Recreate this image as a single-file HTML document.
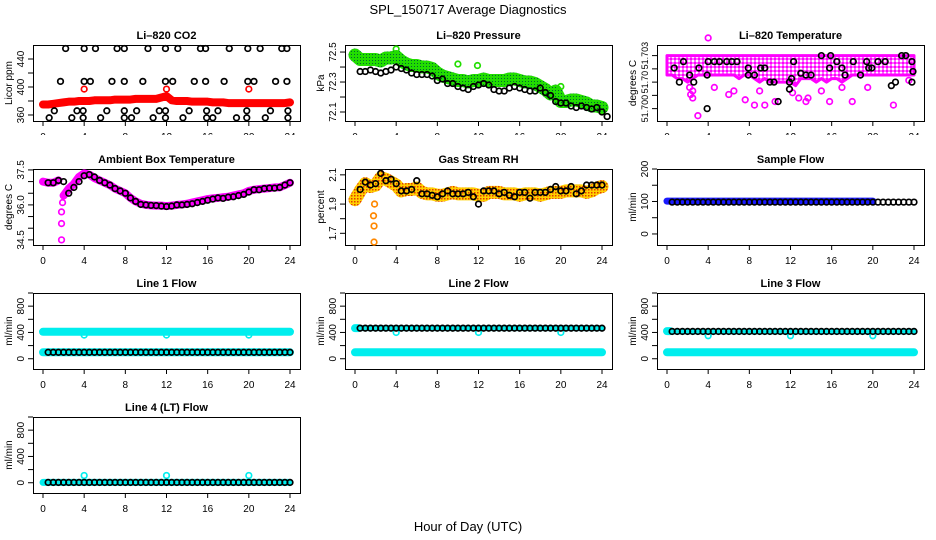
<!DOCTYPE html>
<html><head><meta charset="utf-8"><style>
html,body{margin:0;padding:0;background:#fff}
svg{display:block;font-family:"Liberation Sans",Arial,sans-serif}
</style></head><body>
<svg id="fig" width="936" height="540" viewBox="0 0 936 540">
<defs>
<pattern id="patGreen" width="3" height="3" patternUnits="userSpaceOnUse"><rect width="3" height="3" fill="#22dd00"/><rect width="1" height="1" fill="#063"/></pattern>
<pattern id="patOrange" width="3" height="3" patternUnits="userSpaceOnUse"><rect width="3" height="3" fill="#ffd000"/><rect width="1.5" height="1.5" fill="#e23b00"/></pattern>
<pattern id="patMag" width="4" height="4" patternUnits="userSpaceOnUse"><rect width="4" height="4" fill="#ff66ff"/><rect width="2" height="2" fill="#fff"/><rect x="2" y="2" width="2" height="2" fill="#ff00ff"/></pattern>
<clipPath id="clipRow1"><rect x="0" y="0" width="936" height="135"/></clipPath>
</defs>
<text x="468" y="14" text-anchor="middle" font-size="13">SPL_150717  Average Diagnostics</text>
<text x="468" y="531" text-anchor="middle" font-size="13">Hour of Day (UTC)</text>
</svg>
<script>
// ---------- data (hour-of-day series) ----------
const hourTicks=[0,4,8,12,16,20,24];
// CO2 (ppm)
const co2Red=[375,375,376,377,378,379,379,380,380,380,381,381,381,381,382,382,382,382,383,383,383,383,383,385,387,381,380,380,380,379,379,379,379,378,378,378,377,377,377,377,377,377,377,377,377,377,377,377,378];
const co2RedOutT=[4,12,20];
const co2RedOutV=[397,397,397];
const co2BlackT=[2.2,4.0,5.1,7.2,7.9,10.2,11.9,13.1,15.3,15.8,18.1,19.9,21.1,23.2,23.7, 1.7,4.0,4.6,6.7,7.9,9.7,11.9,12.6,14.7,15.8,17.6,19.9,20.5,22.6,23.7, 1.1,3.3,3.9,6.2,7.9,9.1,11.3,11.9,14.2,15.9,17.0,19.8,22.1,23.8, 0.6,2.8,3.9,5.6,7.9,8.6,10.7,11.9,13.6,15.9,16.5,18.8,19.8,21.6,23.8];
const co2BlackV=[455,455,455,455,455,455,455,455,455,455,455,455,455,455,455, 408,408,408,408,408,408,408,408,408,408,408,408,408,408,408, 366,366,366,366,366,366,366,366,366,366,366,366,366,366, 356,356,356,356,356,356,356,356,356,356,356,356,356,356,356];
// Pressure (kPa)
const presGreen=[72.48,72.45,72.45,72.45,72.45,72.44,72.46,72.46,72.47,72.44,72.42,72.41,72.41,72.40,72.40,72.39,72.36,72.34,72.33,72.32,72.31,72.31,72.30,72.31,72.31,72.32,72.31,72.31,72.31,72.31,72.32,72.32,72.31,72.30,72.30,72.29,72.27,72.25,72.22,72.24,72.17,72.17,72.18,72.18,72.17,72.16,72.14,72.14,72.13];
const presGreenOutT=[4.0,10.0,11.9,20.0];
const presGreenOutV=[72.52,72.42,72.41,72.27];
const presBlack=[72.37,72.37,72.38,72.37,72.36,72.37,72.38,72.40,72.39,72.38,72.36,72.35,72.35,72.35,72.34,72.31,72.32,72.29,72.29,72.27,72.26,72.25,72.27,72.28,72.29,72.28,72.25,72.24,72.24,72.26,72.27,72.26,72.25,72.24,72.24,72.26,72.23,72.21,72.17,72.16,72.16,72.14,72.13,72.14,72.13,72.12,72.13,72.10,72.07];
// Li-820 temperature (deg C)
const tempHi=[51.7030,51.7030,51.7030,51.7030,51.7030,51.7030,51.7030,51.7030,51.7030,51.7030,51.7030,51.7030,51.7030,51.7030,51.7030,51.7030,51.7030,51.7030,51.7030,51.7030,51.7030,51.7030,51.7030,51.7030,51.7030,51.7030,51.7030,51.7030,51.7030,51.7030,51.7030,51.7030,51.7030,51.7030,51.7030,51.7030,51.7030,51.7030,51.7030,51.7030,51.7030,51.7030,51.7030,51.7030,51.7030,51.7030,51.7030,51.7030,51.7030];
const tempLo=[51.7019,51.7019,51.7017,51.7017,51.7015,51.7017,51.7019,51.7019,51.7019,51.7019,51.7019,51.7019,51.7019,51.7019,51.7017,51.7019,51.7019,51.7017,51.7015,51.7017,51.7015,51.7015,51.7015,51.7015,51.7015,51.7013,51.7017,51.7017,51.7017,51.7015,51.7017,51.7015,51.7017,51.7017,51.7015,51.7017,51.7019,51.7019,51.7019,51.7019,51.7019,51.7019,51.7019,51.7019,51.7019,51.7019,51.7019,51.7019,51.7019];
const tempMagOutT=[2.2,2.5,2.3,2.5,3.0,4.0,4.6,6.0,6.5,7.6,8.5,9.0,9.5,10.5,12.2,12.8,13.5,13.7,15.0,15.8,17.0,18.0,19.5,22.0,23.5];
const tempMagOutV=[51.7012,51.7010,51.7008,51.7006,51.6996,51.7040,51.7012,51.7008,51.7010,51.7005,51.7002,51.7010,51.7002,51.7004,51.7009,51.7006,51.7004,51.7006,51.7010,51.7004,51.7012,51.7004,51.7012,51.7002,51.7016];
const tempBlackT=[0.7,1.2,1.6,2.2,2.6,3.1,3.9,3.9,4.0,4.6,5.1,5.8,6.3,6.8,7.9,7.9,8.5,9.1,9.5,10.0,10.4,10.8,11.9,11.9,12.1,12.3,13.0,13.5,14.0,15.0,15.9,15.8,16.5,17.0,17.3,18.1,18.8,19.4,19.6,19.9,20.5,21.2,21.8,22.2,22.8,23.2,23.8,23.9,23.8];
const tempBlackV=[51.7023,51.7015,51.70266,51.7019,51.7015,51.7023,51.7000,51.7019,51.70266,51.70266,51.70266,51.70266,51.70266,51.70266,51.7023,51.7019,51.7019,51.7023,51.7023,51.7015,51.7015,51.7004,51.7015,51.7011,51.7017,51.70266,51.7020,51.7019,51.7019,51.7030,51.7030,51.7023,51.70266,51.7023,51.7019,51.70266,51.7019,51.70266,51.7023,51.7023,51.70266,51.70266,51.7013,51.7015,51.7030,51.7030,51.70266,51.7021,51.7015];
// Ambient box temperature
const ambMag=[37.0,36.95,36.95,37.05,36.4,36.7,36.9,37.2,37.35,37.3,37.15,37.05,36.95,36.85,36.7,36.6,36.5,36.3,36.15,36.05,36.0,35.98,35.97,35.97,35.95,35.97,36.0,36.02,36.05,36.1,36.15,36.2,36.25,36.28,36.3,36.33,36.35,36.4,36.45,36.5,36.6,36.65,36.68,36.7,36.72,36.75,36.75,36.85,36.95];
const ambMagOutT=[1.8,1.8,1.8,1.9];
const ambMagOutV=[34.5,35.2,35.7,36.1];
const ambBlack=[36.95,36.95,37.05,37.0,36.5,36.75,37.0,37.25,37.3,37.2,37.05,36.95,36.85,36.7,36.6,36.5,36.3,36.15,36.02,36.0,35.98,35.97,35.95,35.93,35.95,36.0,36.0,36.02,36.05,36.1,36.15,36.2,36.25,36.3,36.28,36.33,36.35,36.4,36.45,36.55,36.65,36.65,36.7,36.72,36.72,36.75,36.85,36.95];
// Gas stream RH (percent)
const rhBand=[1.93,1.99,2.04,2.02,2.03,2.08,2.07,2.05,2.03,1.99,2.0,2.0,2.01,1.98,1.97,1.97,1.96,1.96,1.97,1.98,1.97,1.97,1.97,1.97,1.96,1.96,1.98,1.98,1.98,1.97,1.97,1.97,1.96,1.97,1.97,1.97,1.96,1.97,1.98,1.98,1.98,1.99,1.99,1.99,1.99,1.98,1.99,2.01,2.02];
const rhOutT=[1.8,1.85,1.85,1.9];
const rhOutV=[1.82,1.75,1.64,1.90];
const rhBlack=[2.0,2.05,2.03,2.04,2.11,2.06,2.07,2.04,1.99,1.99,2.0,2.06,1.97,1.97,1.96,1.95,1.97,1.99,1.97,1.97,1.97,1.98,1.95,1.90,1.99,1.99,1.99,1.97,1.98,1.96,1.95,1.98,1.98,1.94,1.98,1.98,1.98,2.0,2.02,1.99,1.99,2.02,1.97,1.99,2.03,2.03,2.03,2.03];
// Sample flow (ml/min)
const sfBlue=[101,101,101,101,101,101,101,101,101,101,101,101,101,101,101,101,101,101,101,101,101,101,101,101,101,101,101,101,101,101,101,101,101,101,101,101,101,101,101,101,101];
const sfBlack=[98,98,98,98,98,98,98,98,98,98,98,98,98,98,98,98,98,98,98,98,98,98,98,98,98,98,98,98,98,98,98,98,98,98,98,98,98,98,98,98,98,98,98,98,98,98,98,98];
// Line flows (ml/min)
const l1CyanHi=[410,410,410,410,410,410,410,410,410,410,410,410,410,410,410,410,410,410,410,410,410,410,410,410,410,410,410,410,410,410,410,410,410,410,410,410,410,410,410,410,410,410,410,410,410,410,410,410,410];
const l1CyanLo=[98,98,98,98,98,98,98,98,98,98,98,98,98,98,98,98,98,98,98,98,98,98,98,98,98,98,98,98,98,98,98,98,98,98,98,98,98,98,98,98,98,98,98,98,98,98,98,98,98];
const l1Black=[98,98,98,98,98,98,98,98,98,98,98,98,98,98,98,98,98,98,98,98,98,98,98,98,98,98,98,98,98,98,98,98,98,98,98,98,98,98,98,98,98,98,98,98,98,98,98,98];
const l1DipT=[4,12,20]; const l1DipV=[360,360,360];
const l2CyanHi=[465,465];
const l2CyanLo=[98,98,98,98,98,98,98,98,98,98,98,98,98,98,98,98,98,98,98,98,98,98,98,98,98,98,98,98,98,98,98,98,98,98,98,98,98,98,98,98,98,98,98,98,98,98,98,98,98];
const l2Black=[465,465,465,465,465,465,465,465,465,465,465,465,465,465,465,465,465,465,465,465,465,465,465,465,465,465,465,465,465,465,465,465,465,465,465,465,465,465,465,465,465,465,465,465,465,465,465,465];
const l2DipT=[4,12,20]; const l2DipV=[400,400,400];
const l3CyanHi=[420,420];
const l3CyanLo=[98,98,98,98,98,98,98,98,98,98,98,98,98,98,98,98,98,98,98,98,98,98,98,98,98,98,98,98,98,98,98,98,98,98,98,98,98,98,98,98,98,98,98,98,98,98,98,98,98];
const l3Black=[415,415,415,415,415,415,415,415,415,415,415,415,415,415,415,415,415,415,415,415,415,415,415,415,415,415,415,415,415,415,415,415,415,415,415,415,415,415,415,415,415,415,415,415,415,415,415,415];
const l3DipT=[4,12,20]; const l3DipV=[350,350,350];
const l4Cyan=[5,5,5,5,5,5,5,5,5,5,5,5,5,5,5,5,5,5,5,5,5,5,5,5,5,5,5,5,5,5,5,5,5,5,5,5,5,5,5,5,5,5,5,5,5,5,5,5,5];
const l4Black=[5,5,5,5,5,5,5,5,5,5,5,5,5,5,5,5,5,5,5,5,5,5,5,5,5,5,5,5,5,5,5,5,5,5,5,5,5,5,5,5,5,5,5,5,5,5,5,5];
const l4SpikeT=[4,12,20]; const l4SpikeV=[110,110,110];

// ---------- rendering ----------
const NS='http://www.w3.org/2000/svg';
const svg=document.getElementById('fig');
function mk(tag,attrs,parent){const e=document.createElementNS(NS,tag);for(const k in attrs)e.setAttribute(k,attrs[k]);(parent||svg).appendChild(e);return e;}

function makePanel(col,row,title,ylab,ymin,ymax,ticks,labels,name,lfs){
  const g=mk('g',{});
  
  
  const left=33+312*col,right=300+312*col,top=45+124*row,bottom=top+76;
  const x=h=>43+312*col+h*(247/24);
  const y=v=>bottom-(v-ymin)/(ymax-ymin)*76;
  const t=mk('text',{x:(left+right)/2,y:top-6,'text-anchor':'middle','font-size':11,'font-weight':'bold'},g);
  t.textContent=title;
  
  
  const yl=mk('text',{x:0,y:0,'text-anchor':'middle','font-size':10,transform:`translate(${left-21},${(top+bottom)/2}) rotate(-90)`},g);
  yl.textContent=ylab;
  
  
  const ya=mk('g',{},g);
  
  
  ticks.forEach(v=>{mk('line',{x1:left-5,x2:left,y1:y(v),y2:y(v),stroke:'#000','stroke-width':1},ya);});
  labels.forEach(([v,s])=>{const tx=mk('text',{x:0,y:0,'text-anchor':'middle','font-size':lfs||10,transform:`translate(${left-9},${y(v)}) rotate(-90)`},ya);tx.textContent=s;});
  const xa=mk('g',{},g);
  
  
  if(row===0) xa.setAttribute('clip-path','url(#clipRow1)');
  mk('line',{x1:left,x2:right,y1:bottom+0.5,y2:bottom+0.5,stroke:'#000'},xa);
  hourTicks.forEach(h=>{mk('line',{x1:x(h),x2:x(h),y1:bottom,y2:bottom+5,stroke:'#000'},xa);
    const tx=mk('text',{x:x(h),y:bottom+19,'text-anchor':'middle','font-size':10},xa);tx.textContent=h;});
  const box=mk('rect',{x:left+0.5,y:top+0.5,width:right-left,height:bottom-top,fill:'none',stroke:'#000','stroke-width':1},g);
  
  
  const data=mk('g',{},g);
  
  
  return {x,y,g:data};
}
function band(p,vals,start,step,color,width,name){
  const pts=vals.map((v,i)=>p.x(start+i*step)+','+p.y(v)).join(' ');
  const pl=mk('polyline',{points:pts,fill:'none',stroke:color,'stroke-width':width,'stroke-linecap':'round','stroke-linejoin':'round'},p.g);
  
  
}
function pointsSeq(p,vals,start,step,color,name,r){
  vals.forEach((v,i)=>{const c=mk('circle',{cx:p.x(start+i*step),cy:p.y(v),r:r||2.8,fill:'none',stroke:color,'stroke-width':1.7},p.g);
    
    });
}
function pointsXY(p,ts,vs,color,name){
  ts.forEach((t,i)=>{const c=mk('circle',{cx:p.x(t),cy:p.y(vs[i]),r:2.8,fill:'none',stroke:color,'stroke-width':1.7},p.g);
    
    });
}

let p=makePanel(0,0,'Li\u2013820 CO2','Licor ppm',351.4,460,[360,380,400,420,440],[[360,'360'],[400,'400'],[440,'440']],'co2');
band(p,co2Red,0,0.5,'#ff0000',8,'co2-red-series');
pointsXY(p,co2RedOutT,co2RedOutV,'#ff0000','co2-red-outlier');
pointsXY(p,co2BlackT,co2BlackV,'#000','co2-black-point');

p=makePanel(1,0,'Li\u2013820 Pressure','kPa',72.04,72.547,[72.1,72.2,72.3,72.4,72.5],[[72.1,'72.1'],[72.3,'72.3'],[72.5,'72.5']],'pressure');
band(p,presGreen,0,0.5,'url(#patGreen)',13,'pressure-green-series');
pointsXY(p,presGreenOutT,presGreenOutV,'#22dd00','pressure-green-outlier');
pointsSeq(p,presBlack,0.5,0.5,'#000','pressure-black-point');

p=makePanel(2,0,'Li\u2013820 Temperature','degrees C',51.6993,51.7036,[51.7,51.70075,51.7015,51.70225,51.703],[[51.7,'51.700'],[51.7015,'51.70'],[51.703,'51.703']],'li820-temp',9);
{const up=tempHi.map((v,i)=>p.x(i*0.5)+','+p.y(v));const lo=tempLo.map((v,i)=>p.x(i*0.5)+','+p.y(v)).reverse();
 const poly=mk('polygon',{points:up.concat(lo).join(' '),fill:'url(#patMag)',stroke:'#ff00ff','stroke-width':3,'stroke-linejoin':'round'},p.g);
 
 }
pointsXY(p,tempMagOutT,tempMagOutV,'#ff00ff','li820-temp-magenta-outlier');
pointsXY(p,tempBlackT,tempBlackV,'#000','li820-temp-black-point');

p=makePanel(0,1,'Ambient Box Temperature','degrees C',34.28,37.54,[34.5,35,35.5,36,36.5,37,37.5],[[34.5,'34.5'],[36,'36.0'],[37.5,'37.5']],'ambient-temp');
band(p,ambMag.slice(0,4),0,0.5,'#ff00ff',8,'ambient-magenta-series-early');
band(p,ambMag.slice(4),2,0.5,'#ff00ff',8,'ambient-magenta-series');
pointsXY(p,ambMagOutT,ambMagOutV,'#ff00ff','ambient-magenta-outlier');
pointsSeq(p,ambBlack,0.5,0.5,'#000','ambient-black-point');

p=makePanel(1,1,'Gas Stream RH','percent',1.62,2.14,[1.7,1.8,1.9,2.0,2.1],[[1.7,'1.7'],[1.9,'1.9'],[2.1,'2.1']],'gas-rh');
band(p,rhBand,0,0.5,'url(#patOrange)',13,'gas-rh-orange-series');
pointsXY(p,rhOutT,rhOutV,'#ff8800','gas-rh-orange-outlier');
pointsSeq(p,rhBlack,0.5,0.5,'#000','gas-rh-black-point');

p=makePanel(2,1,'Sample Flow','ml/min',-34,200,[0,50,100,150,200],[[0,'0'],[100,'100'],[200,'200']],'sample-flow');
band(p,sfBlue,0,0.5,'#1a1aff',7,'sample-flow-blue-series');
pointsSeq(p,sfBlack,0.5,0.5,'#000','sample-flow-black-point');

const fT=[0,200,400,600,800,1000],fL=[[0,'0'],[400,'400'],[800,'800']];
p=makePanel(0,2,'Line 1 Flow','ml/min',-156,1000,fT,fL,'line1-flow');
band(p,l1CyanHi,0,0.5,'#00eeee',8,'line1-cyan-high-series');
band(p,l1CyanLo,0,0.5,'#00eeee',8,'line1-cyan-low-series');
pointsXY(p,l1DipT,l1DipV,'#00eeee','line1-cyan-dip');
pointsSeq(p,l1Black,0.5,0.5,'#000','line1-black-point');
p=makePanel(1,2,'Line 2 Flow','ml/min',-156,1000,fT,fL,'line2-flow');
band(p,l2CyanHi,0,0.3,'#00eeee',8,'line2-cyan-high-series');
band(p,l2CyanLo,0,0.5,'#00eeee',8,'line2-cyan-low-series');
pointsXY(p,l2DipT,l2DipV,'#00eeee','line2-cyan-dip');
band(p,l2Black,0.5,0.5,'#00eeee',6,'line2-cyan-under-black');
pointsSeq(p,l2Black,0.5,0.5,'#000','line2-black-point');
p=makePanel(2,2,'Line 3 Flow','ml/min',-156,1000,fT,fL,'line3-flow');
band(p,l3CyanHi,0,0.3,'#00eeee',8,'line3-cyan-high-series');
band(p,l3CyanLo,0,0.5,'#00eeee',8,'line3-cyan-low-series');
pointsXY(p,l3DipT,l3DipV,'#00eeee','line3-cyan-dip');
band(p,l3Black,0.5,0.5,'#00eeee',6,'line3-cyan-under-black');
pointsSeq(p,l3Black,0.5,0.5,'#000','line3-black-point');
p=makePanel(0,3,'Line 4 (LT) Flow','ml/min',-156,1000,fT,fL,'line4-flow');
band(p,l4Cyan,0,0.5,'#00eeee',7,'line4-cyan-series');
pointsXY(p,l4SpikeT,l4SpikeV,'#00eeee','line4-cyan-spike');
pointsSeq(p,l4Black,0.5,0.5,'#000','line4-black-point');
</script>
</body></html>
